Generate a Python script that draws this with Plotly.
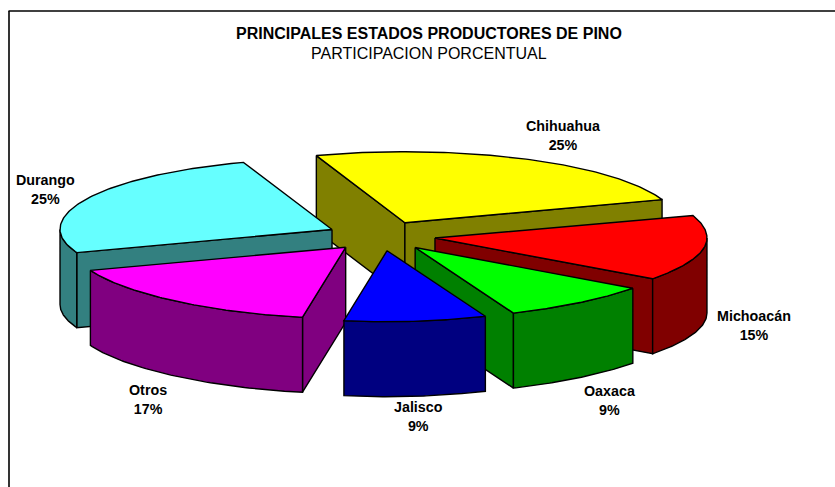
import numpy as np
import plotly.graph_objects as go

categories = ["Chihuahua", "Michoacán", "Oaxaca", "Jalisco", "Otros", "Durango"]
values = [25, 15, 9, 9, 17, 25]
top_colors = ["#FFFF00", "#FF0000", "#00FF00", "#0000FF", "#FF00FF", "#66FFFF"]
side_colors = ["#808000", "#800000", "#008000", "#000080", "#800080", "#338080"]
label_pos = [(563, 135), (754, 325), (610, 400), (418, 416), (148, 399), (45, 189)]
draw_order = [0, 5, 1, 4, 2, 3]

W, H = 835, 487
CX, CY = 381, 236      # pie centre, pixels
A, B = 272, 71         # ellipse radii
DEPTH = 75
EXPL_X, EXPL_Y = 54.5, 14.8
START = -19.0
FRONT_NARROW = 0.07    # front of the pie is slightly narrower, as in the reference's projection

fig = go.Figure()


def poly(xs, ys, color):
    xs = list(xs) + [xs[0]]
    ys = list(ys) + [ys[0]]
    fig.add_trace(go.Scatter(x=xs, y=ys, mode="lines", fill="toself", fillcolor=color,
                             line=dict(color="#000000", width=1.4), hoverinfo="skip",
                             showlegend=False))


total = sum(values)
edges = START + np.cumsum([0] + values) * 360.0 / total

for i in draw_order:
    a0, a1 = edges[i], edges[i + 1]
    mid = np.radians((a0 + a1) / 2)
    ax = CX + EXPL_X * np.sin(mid)
    ay = CY - EXPL_Y * np.cos(mid)

    def pt(deg):
        r = np.radians(deg)
        c = np.cos(r)
        k = 1 - FRONT_NARROW * c * c if c < 0 else 1
        return ax + A * k * np.sin(r), ay - B * c

    # radial walls facing the viewer
    for deg, visible in ((a0, np.sin(np.radians(a0)) < 0), (a1, np.sin(np.radians(a1)) > 0)):
        if visible:
            px, py = pt(deg)
            poly([ax, px, px, ax], [ay, py, py + DEPTH, ay + DEPTH], side_colors[i])

    # curved outer wall, front part only
    lo, hi = max(a0, 90), min(a1, 270)
    if hi > lo:
        ts = np.linspace(lo, hi, 60)
        xs, ys = zip(*[pt(t) for t in ts])
        poly(list(xs) + list(xs[::-1]), list(ys) + [y + DEPTH for y in ys[::-1]], side_colors[i])

    # top face
    ts = np.linspace(a0, a1, 100)
    xs, ys = zip(*[pt(t) for t in ts])
    poly([ax] + list(xs), [ay] + list(ys), top_colors[i])

FONT = "Liberation Sans, Arial, sans-serif"
annotations = [
    dict(x=x, y=y, text=f"<b>{c}<br>{v}%</b>", showarrow=False, xanchor="center", yanchor="middle",
         align="center", font=dict(family=FONT, size=14.3, color="#000000"))
    for c, v, (x, y) in zip(categories, values, label_pos)
]
annotations += [
    dict(x=428.5, y=33, text="<b>PRINCIPALES ESTADOS PRODUCTORES DE PINO</b>", showarrow=False,
         xanchor="center", yanchor="middle", font=dict(family=FONT, size=16, color="#000000")),
    dict(x=428.5, y=53, text="PARTICIPACION PORCENTUAL", showarrow=False,
         xanchor="center", yanchor="middle", font=dict(family=FONT, size=16, color="#000000")),
]

frame = [
    dict(type="line", x0=8.5, x1=W, y0=11, y1=11, line=dict(color="#000000", width=1.6)),
    dict(type="line", x0=9, x1=9, y0=11, y1=H, line=dict(color="#000000", width=1.6)),
]

fig.update_layout(
    width=W, height=H, margin=dict(l=0, r=0, t=0, b=0),
    paper_bgcolor="#FFFFFF", plot_bgcolor="#FFFFFF",
    xaxis=dict(range=[0, W], visible=False, fixedrange=True),
    yaxis=dict(range=[H, 0], visible=False, fixedrange=True),
    annotations=annotations, shapes=frame, showlegend=False,
)
fig.write_html("out.html", config={"displayModeBar": False},
               post_script="document.body.style.margin='0';document.body.style.overflow='hidden';")
